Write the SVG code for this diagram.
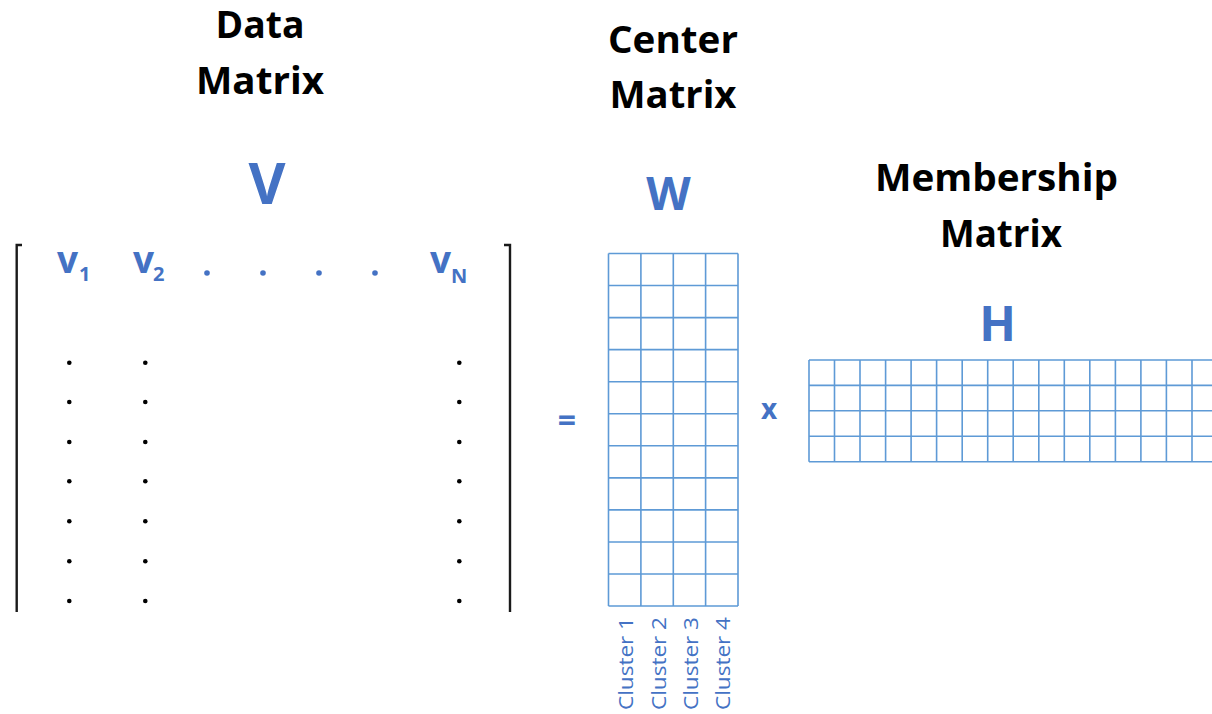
<svg xmlns="http://www.w3.org/2000/svg" width="1212" height="714" viewBox="0 0 1212 714">
  <style>
    .title { font-family: "Open Sans", Lato, "Liberation Sans", sans-serif; font-weight: 700; font-size: 38px; fill: #000; text-anchor: middle; }
    .sym { font-family: "Open Sans", Lato, "Liberation Sans", sans-serif; font-weight: 700; fill: #4472C4; text-anchor: middle; }
    .vec { font-family: "Open Sans", Lato, "Liberation Sans", sans-serif; font-weight: 700; fill: #4472C4; }
    .cl { font-family: "Open Sans", Lato, "Liberation Sans", sans-serif; font-weight: 400; font-size: 20px; fill: #4472C4; }
    .grid { stroke: #5E9AD6; stroke-width: 1.6; fill: none; }
    .brk { stroke: #1a1a1a; stroke-width: 2.4; fill: none; }
    .dot { fill: #000; }
    .bdot { fill: #4472C4; }
  </style>
  <rect width="1212" height="714" fill="#fff"/>

  <!-- Data matrix V -->
  <g id="data-matrix">
    <text class="title" x="260" y="38" textLength="89" lengthAdjust="spacingAndGlyphs">Data</text>
    <text class="title" x="260" y="94" textLength="128" lengthAdjust="spacingAndGlyphs">Matrix</text>
    <text class="sym" x="267" y="204" font-size="57">V</text>
    <path class="brk" d="M22 245 H16.7 V612"/>
    <path class="brk" d="M504 245 H510 V612"/>
    <text class="vec" x="57" y="273" font-size="37">v</text>
    <text class="vec" x="79" y="281" font-size="20">1</text>
    <text class="vec" x="133" y="273" font-size="37">v</text>
    <text class="vec" x="153" y="281" font-size="20">2</text>
    <text class="vec" x="430" y="273" font-size="37">v</text>
    <text class="vec" x="451" y="283" font-size="20">N</text>
    <circle class="bdot" cx="207" cy="273" r="2.8"/>
    <circle class="bdot" cx="263" cy="273" r="2.8"/>
    <circle class="bdot" cx="319" cy="273" r="2.8"/>
    <circle class="bdot" cx="375" cy="273" r="2.8"/>
    <g>
      <circle class="dot" cx="69.3" cy="362.7" r="2.3"/><circle class="dot" cx="145.3" cy="362.7" r="2.3"/><circle class="dot" cx="459.3" cy="362.7" r="2.3"/>
      <circle class="dot" cx="69.3" cy="402" r="2.3"/><circle class="dot" cx="145.3" cy="402" r="2.3"/><circle class="dot" cx="459.3" cy="402" r="2.3"/>
      <circle class="dot" cx="69.3" cy="442" r="2.3"/><circle class="dot" cx="145.3" cy="442" r="2.3"/><circle class="dot" cx="459.3" cy="442" r="2.3"/>
      <circle class="dot" cx="69.3" cy="481.3" r="2.3"/><circle class="dot" cx="145.3" cy="481.3" r="2.3"/><circle class="dot" cx="459.3" cy="481.3" r="2.3"/>
      <circle class="dot" cx="69.3" cy="521.3" r="2.3"/><circle class="dot" cx="145.3" cy="521.3" r="2.3"/><circle class="dot" cx="459.3" cy="521.3" r="2.3"/>
      <circle class="dot" cx="69.3" cy="561.3" r="2.3"/><circle class="dot" cx="145.3" cy="561.3" r="2.3"/><circle class="dot" cx="459.3" cy="561.3" r="2.3"/>
      <circle class="dot" cx="69.3" cy="601" r="2.3"/><circle class="dot" cx="145.3" cy="601" r="2.3"/><circle class="dot" cx="459.3" cy="601" r="2.3"/>
    </g>
  </g>

  <!-- Operators -->
  <g id="operators">
    <text class="sym" x="567" y="432" font-size="32">=</text>
    <text class="sym" x="769" y="419" font-size="28">x</text>
  </g>

  <!-- Center matrix W: 4 columns x 11 rows -->
  <g id="center-matrix">
    <text class="title" x="673" y="53" textLength="130" lengthAdjust="spacingAndGlyphs">Center</text>
    <text class="title" x="673" y="108" textLength="127" lengthAdjust="spacingAndGlyphs">Matrix</text>
    <text class="sym" x="668.5" y="210" font-size="46">W</text>
    <path class="grid" d="M608.5 253.5 V606 M640.9 253.5 V606 M673.3 253.5 V606 M705.6 253.5 V606 M738 253.5 V606
      M608.5 253.5 H738 M608.5 285.55 H738 M608.5 317.6 H738 M608.5 349.65 H738 M608.5 381.7 H738 M608.5 413.75 H738
      M608.5 445.8 H738 M608.5 477.85 H738 M608.5 509.9 H738 M608.5 541.95 H738 M608.5 574 H738 M608.5 606 H738"/>
    <text class="cl" transform="translate(633 617) rotate(-90)" text-anchor="end" textLength="93" lengthAdjust="spacingAndGlyphs">Cluster 1</text>
    <text class="cl" transform="translate(665.5 617) rotate(-90)" text-anchor="end" textLength="93" lengthAdjust="spacingAndGlyphs">Cluster 2</text>
    <text class="cl" transform="translate(697.5 617) rotate(-90)" text-anchor="end" textLength="93" lengthAdjust="spacingAndGlyphs">Cluster 3</text>
    <text class="cl" transform="translate(729.5 617) rotate(-90)" text-anchor="end" textLength="93" lengthAdjust="spacingAndGlyphs">Cluster 4</text>
  </g>

  <!-- Membership matrix H: 4 rows, columns run past the right edge -->
  <g id="membership-matrix">
    <text class="title" x="996.5" y="191" textLength="243" lengthAdjust="spacingAndGlyphs">Membership</text>
    <text class="title" x="1001" y="247" textLength="122" lengthAdjust="spacingAndGlyphs">Matrix</text>
    <text class="sym" x="997.5" y="341" font-size="48">H</text>
    <path class="grid" d="M809 360 H1212 M809 385.4 H1212 M809 410.8 H1212 M809 436.2 H1212 M809 461.7 H1212
      M809 360 V461.7 M834.5 360 V461.7 M860 360 V461.7 M885.6 360 V461.7 M911.1 360 V461.7 M936.6 360 V461.7
      M962.2 360 V461.7 M987.7 360 V461.7 M1013.2 360 V461.7 M1038.8 360 V461.7 M1064.3 360 V461.7
      M1089.8 360 V461.7 M1115.4 360 V461.7 M1140.9 360 V461.7 M1166.4 360 V461.7 M1192 360 V461.7"/>
  </g>
</svg>
